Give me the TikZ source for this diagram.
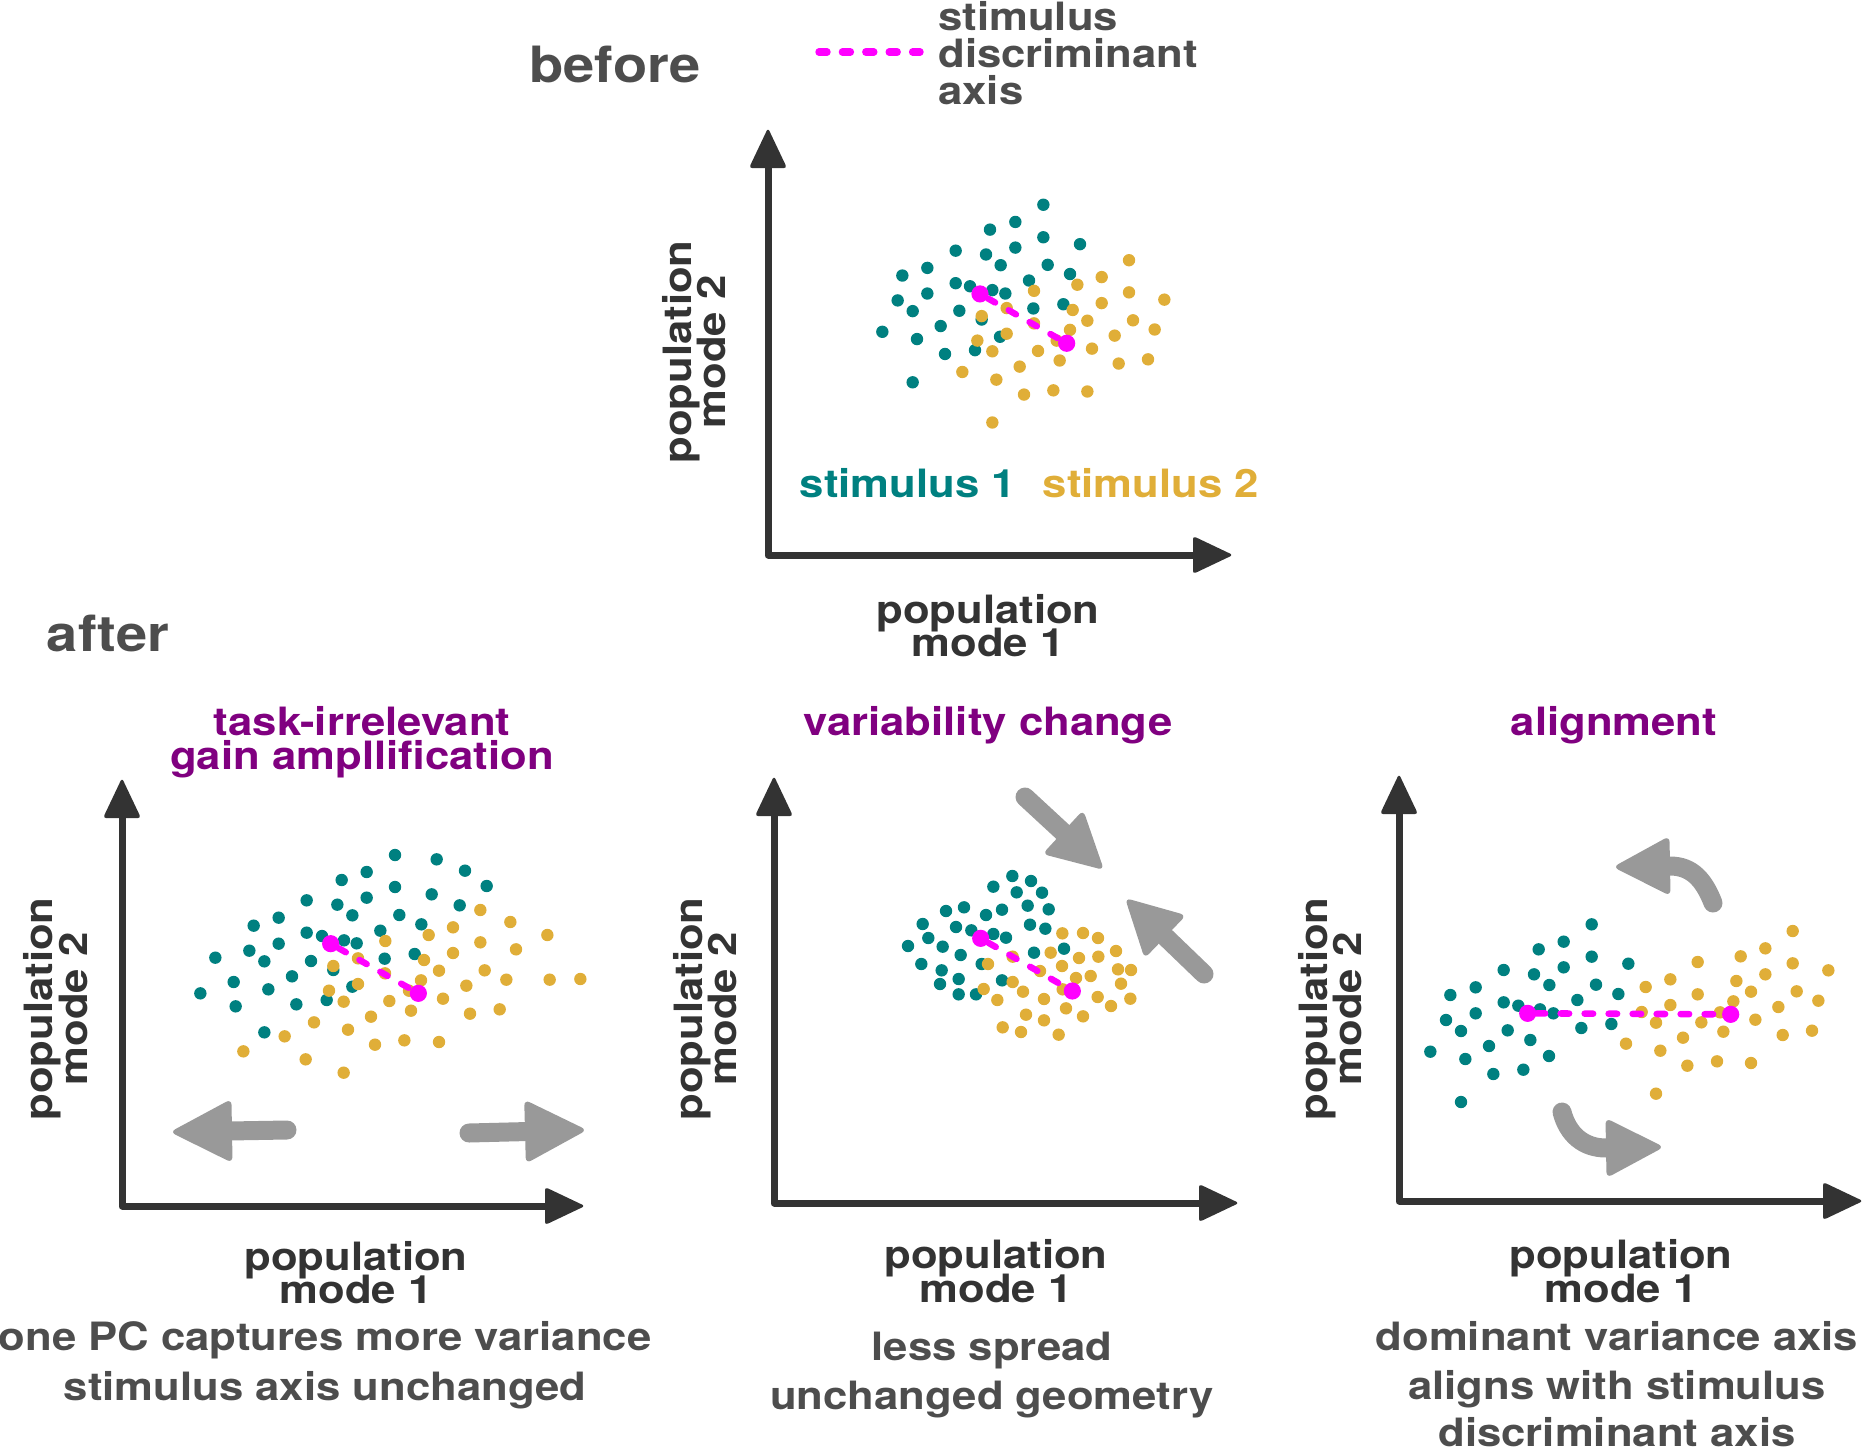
\documentclass[tikz,border=0pt]{standalone}
\usepackage{fontspec}
\setmainfont{TeX Gyre Heros}[FakeStretch=1.12]
\usetikzlibrary{calc}
\definecolor{axisgray}{HTML}{333333}
\definecolor{textgray}{HTML}{4D4D4D}
\definecolor{dteal}{HTML}{008080}
\definecolor{dgold}{HTML}{E0AE38}
\definecolor{dmag}{HTML}{FF00FF}
\definecolor{dpurple}{HTML}{800080}
\definecolor{arrowgray}{HTML}{999999}
\tikzset{
  lbl/.style={font=\fontsize{19.5pt}{20pt}\selectfont\bfseries, text=axisgray, inner sep=0pt, anchor=base},
  desc/.style={lbl, text=textgray},
  ttl/.style={lbl, text=dpurple},
  bigword/.style={lbl, font=\fontsize{25pt}{26pt}\selectfont\bfseries, text=textgray},
  axisline/.style={draw=axisgray, line width=3.5pt, line cap=round, line join=round},
  axishead/.style={fill=axisgray, rounded corners=1.5pt},
  discr/.style={draw=dmag, line width=3.2pt, line cap=round, dash pattern=on 4.2pt off 7.8pt},
  mdot/.style={circle, fill=dmag, inner sep=0pt, minimum size=8.6pt},
  shaft/.style={draw=arrowgray, line width=9.5pt, line cap=round},
  ghead/.style={fill=arrowgray, rounded corners=3pt},
}
\newcommand{\drawaxes}[5]{%
  \coordinate (#5o) at (#1,#2);
  \coordinate (#5y) at (#1,#3+36);
  \coordinate (#5x) at (#4-36,#2);
  \draw[axisline] (#5y) -- (#5o) -- (#5x);
  \fill[axishead] (#1,#3) -- (#1-19,#3+40) -- (#1+19,#3+40) -- cycle;
  \fill[axishead] (#4,#2) -- (#4-40,#2-19) -- (#4-40,#2+19) -- cycle;
}
\newcommand{\tealdots}[1]{\foreach \x/\y in {#1} \fill[dteal] (\x,\y) circle[radius=3.1pt];}
\newcommand{\golddots}[1]{\foreach \x/\y in {#1} \fill[dgold] (\x,\y) circle[radius=3.1pt];}
% straight gray arrow: tail, tip, head length, head half width, prefix
\newcommand{\grayarrow}[5]{%
  \coordinate (#5t) at #1;
  \coordinate (#5h) at #2;
  \coordinate (#5b) at ($(#5h)!#3!(#5t)$);
  \draw[shaft] (#5t) -- (#5b);
  \fill[ghead] (#5h) -- ($(#5b)!#4!90:(#5h)$) -- ($(#5b)!#4!-90:(#5h)$) -- cycle;
}
\begin{document}
\begin{tikzpicture}[x=0.5pt,y=-0.5pt]
\useasboundingbox (0,0) rectangle (1864,1451);

% ---------------- BEFORE ----------------
\node[bigword] (before) at (615,83) {before};
\coordinate (legA) at (819,52);
\coordinate (legB) at (920,52);
\draw[discr, line width=3.7pt, dash pattern=on 4pt off 7.7pt] (legA) -- (legB);
\node[desc, anchor=base west] (leg1) at (938,31) {stimulus};
\node[desc, anchor=base west] (leg2) at (938,68) {discriminant};
\node[desc, anchor=base west] (leg3) at (938,104) {axis};

\drawaxes{768}{555}{128}{1233}{ta}
\node[lbl, rotate=90] (tyl1) at (691,352) {population};
\node[lbl, rotate=90] (tyl2) at (725,352) {mode 2};
\node[lbl] (txl1) at (988,623) {population};
\node[lbl] (txl2) at (988,656) {mode 1};
\node[lbl, text=dteal] (s1) at (908,497) {stimulus 1};
\node[lbl, text=dgold] (s2) at (1151,497) {stimulus 2};

\begin{scope}[shift={(760,0)}, x=0.166667pt, y=-0.191351pt]
\tealdots{850/535, 766/580, 690/600, 850/620, 766/647, 587/655, 678/665, 960/638, 502/700, 427/720, 722/693, 863/692, 930/716, 587/740, 630/748, 697/758, 736/767, 807/733, 502/767, 413/785, 458/813, 598/812, 820/806, 910/795, 665/835, 542/852, 367/867, 471/886, 720/880, 555/925, 645/915, 458/999}
\golddots{1107/680, 1025/724, 952/744, 822/760, 1107/764, 1213/783, 1025/792, 938/810, 740/805, 665/826, 982/838, 1119/837, 822/845, 930/862, 1184/861, 740/872, 652/890, 890/890, 1064/877, 996/911, 697/918, 834/917, 899/942, 1076/950, 1164/939, 779/958, 607/972, 709/992, 792/1031, 880/1020, 982/1023, 697/1104}
\node[mdot] (ta1) at (660,768) {};
\node[mdot] (ta2) at (920,897) {};
\draw[discr] (ta1) -- (ta2);
\end{scope}

% ---------------- AFTER ----------------
\node[bigword] (after) at (108,651) {after};

% left panel
\node[ttl] (lt1) at (362,735) {task-irrelevant};
\node[ttl] (lt2) at (362,769) {gain ampllification};
\drawaxes{122}{1206}{778}{585}{la}
\node[lbl, rotate=90] (lyl1) at (53,1009) {population};
\node[lbl, rotate=90] (lyl2) at (87,1009) {mode 2};
\node[lbl] (lxl1) at (356,1270) {population};
\node[lbl] (lxl2) at (356,1303) {mode 1};
\node[desc] (ld1) at (325,1350) {one PC captures more variance};
\node[desc] (ld2) at (325,1400) {stimulus axis unchanged};

\begin{scope}[shift={(120,760)}, x=0.166667pt, y=-0.166667pt]
\tealdots{825/285, 950/298, 1035/332, 740/336, 665/360, 825/381, 1100/378, 740/413, 935/403, 560/421, 652/434, 1019/436, 697/466, 838/465, 476/473, 401/497, 904/493, 560/518, 606/528, 672/541, 710/550, 781/512, 476/551, 388/572, 433/604, 573/603, 794/596, 884/582, 640/630, 516/649, 286/593, 341/666, 445/688, 697/680, 620/720, 241/700, 347/739, 529/733, 433/817}
\golddots{1081/450, 1171/486, 1282/525, 999/502, 926/525, 796/543, 1081/547, 1188/568, 999/579, 912/600, 714/595, 640/618, 957/632, 1094/631, 795/640, 903/661, 1159/659, 1289/659, 1381/657, 714/672, 627/692, 867/692, 1039/677, 969/716, 671/725, 808/723, 873/752, 1050/761, 1139/748, 753/770, 582/787, 684/809, 494/829, 370/874, 765/854, 853/841, 957/846, 557/898, 671/938}
\node[mdot] (la1) at (632,551) {};
\node[mdot] (la2) at (895,700) {};
\draw[discr] (la1) -- (la2);
\end{scope}
\grayarrow{(287,1130)}{(170,1132)}{31pt}{16pt}{lga}
\grayarrow{(469,1133)}{(587,1130)}{31pt}{16pt}{lgb}

% middle panel
\node[ttl] (mt1) at (988,735) {variability change};
\drawaxes{774}{1203}{776}{1239}{ma}
\node[lbl, rotate=90] (myl1) at (702,1009) {population};
\node[lbl, rotate=90] (myl2) at (736,1009) {mode 2};
\node[lbl] (mxl1) at (996,1268) {population};
\node[lbl] (mxl2) at (996,1302) {mode 1};
\node[desc] (md1) at (992,1360) {less spread};
\node[desc] (md2) at (992,1409) {unchanged geometry};

\begin{scope}[shift={(860,760)}, x=0.166667pt, y=-0.166667pt]
\tealdots{457/348, 513/363, 400/380, 470/397, 546/398, 503/437, 566/448, 426/449, 378/465, 258/453, 312/442, 188/492, 288/501, 334/511, 400/522, 438/533, 510/494, 556/506, 205/534, 248/560, 302/585, 144/558, 184/612, 245/631, 365/612, 522/578, 612/566, 296/657, 240/672, 426/661, 296/703, 348/703}
\golddots{607/520, 669/519, 714/534, 572/578, 657/594, 715/590, 768/573, 458/590, 384/612, 606/618, 540/633, 648/654, 692/648, 774/628, 813/630, 371/687, 458/666, 489/695, 608/688, 783/671, 412/720, 552/717, 713/711, 753/738, 811/716, 618/745, 498/764, 669/769, 552/781, 428/802, 483/816, 596/824}
\node[mdot] (ma1) at (362,535) {};
\node[mdot] (ma2) at (637,693) {};
\draw[discr] (ma1) -- (ma2);
\end{scope}
\grayarrow{(1025,797)}{(1104,870)}{28pt}{15pt}{mga}
\grayarrow{(1204,974)}{(1125,898)}{28pt}{15pt}{mgb}

% right panel
\node[ttl] (rt1) at (1614,735) {alignment};
\drawaxes{1399}{1201}{774}{1863}{ra}
\node[lbl, rotate=90] (ryl1) at (1327,1009) {population};
\node[lbl, rotate=90] (ryl2) at (1361,1009) {mode 2};
\node[lbl] (rxl1) at (1621,1268) {population};
\node[lbl] (rxl2) at (1621,1302) {mode 1};
\node[desc] (rd1) at (1617,1350) {dominant variance axis};
\node[desc] (rd2) at (1617,1399) {aligns with stimulus};
\node[desc] (rd3) at (1617,1446) {discriminant axis};

\begin{scope}[shift={(1380,760)}, x=0.166667pt, y=-0.166667pt]
\tealdots{635/493, 551/545, 476/568, 635/590, 551/622, 371/630, 462/643, 745/611, 508/675, 648/674, 287/682, 211/705, 715/702, 371/727, 415/737, 480/748, 520/760, 592/720, 287/760, 198/780, 243/813, 383/811, 604/804, 694/792, 451/840, 327/858, 151/875, 256/897, 507/888, 340/942, 430/929, 243/1026}
\golddots{1238/513, 1156/565, 1082/589, 953/606, 1238/610, 1345/631, 1156/643, 1069/663, 871/658, 797/681, 1113/695, 953/703, 1250/694, 871/735, 1060/724, 1315/722, 785/756, 1020/757, 1195/741, 828/788, 964/787, 1126/779, 1030/815, 909/833, 1208/825, 1296/812, 738/851, 841/872, 922/917, 1011/904, 1113/909, 828/1001}
\node[mdot] (ra1) at (443,760) {};
\node[mdot] (ra2) at (1052,763) {};
\draw[discr, line width=3.3pt] (ra1) -- (ra2);
\end{scope}

% curved arrows
\coordinate (rut) at (1713,903);
\coordinate (rub) at (1670,866);
\coordinate (ruh) at (1613,867);
\draw[shaft] (rut) .. controls (1704,880) and (1692,866) .. (rub);
\fill[ghead] (ruh) -- ($(rub)!15pt!90:(ruh)$) -- ($(rub)!15pt!-90:(ruh)$) -- cycle;
\coordinate (rlt) at (1562,1112);
\coordinate (rlb) at (1606,1148);
\coordinate (rlh) at (1664,1147);
\draw[shaft] (rlt) .. controls (1568,1135) and (1584,1148) .. (rlb);
\fill[ghead] (rlh) -- ($(rlb)!15pt!90:(rlh)$) -- ($(rlb)!15pt!-90:(rlh)$) -- cycle;
\end{tikzpicture}
\end{document}
